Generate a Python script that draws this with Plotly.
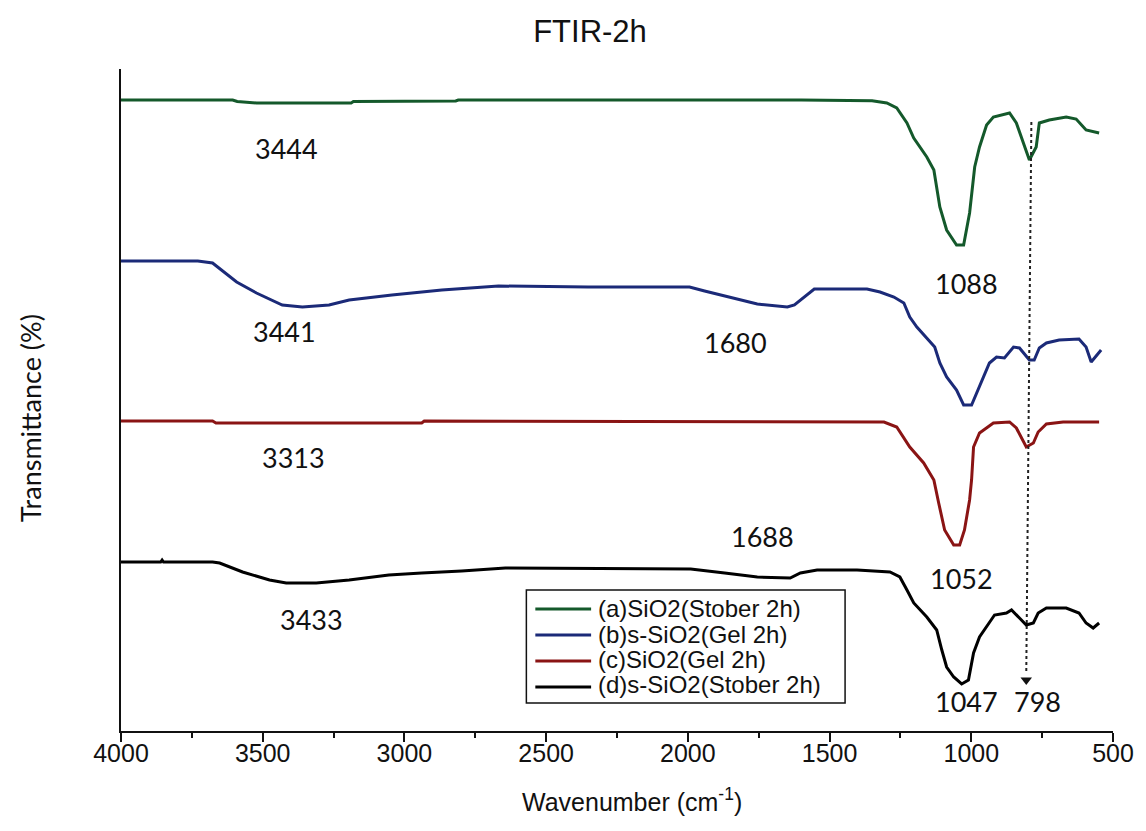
import plotly.graph_objects as go

# ---- data (y = relative transmittance, arbitrary offset units) ----
wn_a = [4000, 3606, 3590, 3522, 3188, 3180, 2819, 2810, 1600, 1438, 1350, 1298, 1263, 1227, 1203,
        1157, 1132, 1111, 1087, 1052, 1027, 1006, 988, 971, 946, 922, 865, 841, 816, 795, 771,
        760, 725, 665, 630, 595, 549]
t_a = [631, 631, 629.5, 628, 628, 629.5, 630, 631, 631, 631, 630.3, 628, 623, 608, 593,
       574, 561, 524, 501, 486, 486, 518, 564, 584, 606, 614, 618, 608, 588, 571, 584,
       608, 611, 614, 612, 601, 598]

wn_b = [4000, 3729, 3677, 3592, 3522, 3431, 3360, 3266, 3195, 3044, 2868, 2668, 2352, 1994, 1941,
        1850, 1755, 1649, 1624, 1554, 1368, 1322, 1273, 1238, 1217, 1192, 1157, 1129, 1111, 1087,
        1052, 1027, 999, 971, 936, 911, 883, 851, 830, 795, 778, 760, 735, 690, 620, 595, 577, 542]
t_b = [470, 470, 468, 449, 438, 426, 424, 426, 431, 436, 441, 445, 444, 444, 440,
       434, 427, 424, 426, 442, 442, 439, 434, 428, 414, 404, 393, 384, 368, 354,
       341, 326, 326, 344, 368, 374, 373, 384, 383, 371, 371, 383, 388, 391, 392, 384, 369, 381]

wn_c = [4000, 3677, 3665, 2939, 2930, 1308, 1263, 1217, 1168, 1132, 1115, 1094, 1062, 1041, 1024,
        1006, 999, 992, 971, 922, 865, 841, 806, 781, 764, 735, 676, 549]
t_c = [310, 310, 308, 308, 310, 309, 304, 284, 268, 251, 228, 201, 186, 186, 201,
       231, 251, 284, 298, 308, 309, 303, 284, 288, 299, 307, 309, 309]

wn_d = [4000, 3860, 3855, 3850, 3677, 3652, 3571, 3476, 3417, 3311, 3195, 3055, 2939, 2798, 2644,
        1990, 1870, 1755, 1639, 1603, 1544, 1403, 1287, 1252, 1227, 1203, 1157, 1122, 1104, 1087,
        1062, 1034, 1010, 992, 971, 946, 918, 876, 858, 830, 806, 781, 764, 735, 665, 620,
        595, 570, 549]
t_d = [169, 169, 171, 169, 169, 168, 159, 151, 148, 148, 151, 156, 158, 160, 163,
       162, 158, 154, 153, 158, 161, 161, 159, 154, 141, 128, 114, 101, 81, 64,
       54, 47, 51, 78, 94, 104, 116, 118, 121, 113, 106, 108, 118, 123, 123, 118,
       108, 103, 108]

names = ["(a)SiO2(Stober 2h)", "(b)s-SiO2(Gel 2h)", "(c)SiO2(Gel 2h)", "(d)s-SiO2(Stober 2h)"]
colors = ["#14592b", "#1b2a78", "#8a1414", "#000000"]

peak_labels = ["3444", "1088", "3441", "1680", "3313", "1688", "1052", "3433", "1047", "798"]
peak_x = [3415, 1017, 3424, 1832, 3392, 1737, 1036, 3328, 1017, 767]
peak_y = [583, 448, 400, 389, 274, 195, 153, 112, 30, 30]

marker_wn = [806]       # 798 cm-1 guide arrow tip
marker_t = [51]

tick_vals = [4000, 3500, 3000, 2500, 2000, 1500, 1000, 500]

# ---- layout constants (page body has an 8px margin) ----
W, H = 1138, 823
ML, MT = 113, 61
PW, PH = 996, 662


def px2paper_x(px):
    return (px - 8 - ML) / PW


def py2paper_y(py):
    return (MT + PH - (py - 8)) / PH


# ---- figure ----
fig = go.Figure()
for wn, t, nm, col in zip([wn_a, wn_b, wn_c, wn_d], [t_a, t_b, t_c, t_d], names, colors):
    fig.add_trace(go.Scatter(x=wn, y=t, mode="lines", name=nm, showlegend=False,
                             line=dict(color=col, width=3)))

for lab, px, py in zip(peak_labels, peak_x, peak_y):
    fig.add_annotation(x=px, y=py, text=lab, showarrow=False,
                       font=dict(family="Lato", size=27, color="#111111"),
                       xanchor="center", yanchor="middle")

# dotted guide line at 798 cm-1 with a small arrow head
fig.add_shape(type="line", x0=788, y0=609, x1=806, y1=58,
              line=dict(color="#222222", width=2, dash="dot"))
fig.add_trace(go.Scatter(x=marker_wn, y=marker_t, mode="markers", showlegend=False,
                         hoverinfo="skip",
                         marker=dict(symbol="triangle-down", size=10, color="#111111")))

# legend box (drawn to match the reference's boxed legend)
box_l, box_r, box_t, box_b = 528, 848, 590, 703
fig.add_shape(type="rect", xref="paper", yref="paper",
              x0=px2paper_x(box_l), x1=px2paper_x(box_r),
              y0=py2paper_y(box_b), y1=py2paper_y(box_t),
              line=dict(color="#111111", width=1.5), fillcolor="white", layer="above")
row_text_y = [608, 634, 659, 684]
row_line_y = [609, 635, 661, 687]
for nm, col, ty, ly in zip(names, colors, row_text_y, row_line_y):
    fig.add_shape(type="line", xref="paper", yref="paper",
                  x0=px2paper_x(537), x1=px2paper_x(593),
                  y0=py2paper_y(ly), y1=py2paper_y(ly),
                  line=dict(color=col, width=3), layer="above")
    fig.add_annotation(xref="paper", yref="paper", x=px2paper_x(598), y=py2paper_y(ty),
                       text=nm, showarrow=False, xanchor="left", yanchor="middle",
                       font=dict(family="Liberation Sans", size=24, color="#111111"))

# axis titles
fig.add_annotation(xref="paper", yref="paper", x=px2paper_x(30), y=py2paper_y(418),
                   text="Transmittance (%)", textangle=-90, showarrow=False,
                   xanchor="center", yanchor="middle",
                   font=dict(family="Lato", size=27, color="#111111"))
fig.add_annotation(xref="paper", yref="paper", x=px2paper_x(634), y=py2paper_y(800),
                   text="Wavenumber (cm<sup>-1</sup>)", showarrow=False,
                   xanchor="center", yanchor="middle",
                   font=dict(family="Liberation Sans", size=25, color="#111111"))

fig.update_layout(
    width=W, height=H,
    margin=dict(l=ML, r=W - ML - PW, t=MT, b=H - MT - PH),
    paper_bgcolor="white", plot_bgcolor="white",
    title=dict(text="FTIR-2h", xref="container", x=(590 - 8) / W, xanchor="center",
               yref="container", y=1 - (31 - 8) / H, yanchor="middle",
               font=dict(family="Liberation Sans", size=31, color="#111111")),
    showlegend=False,
)
fig.update_xaxes(range=[4000, 500], tickvals=tick_vals, ticks="outside", ticklen=9,
                 tickwidth=1.5, tickcolor="#111111", ticklabelstandoff=-10,
                 minor=dict(dtick=250, ticks="outside", ticklen=5, tickwidth=1.5, tickcolor="#111111"),
                 showline=True, linecolor="#111111", linewidth=1.5, showgrid=False, zeroline=False,
                 tickfont=dict(family="Liberation Sans", size=25, color="#111111"))
fig.update_yaxes(range=[0, 662], showline=True, linecolor="#111111", linewidth=1.5,
                 showticklabels=False, ticks="", showgrid=False, zeroline=False)

fig.write_html("out.html")
